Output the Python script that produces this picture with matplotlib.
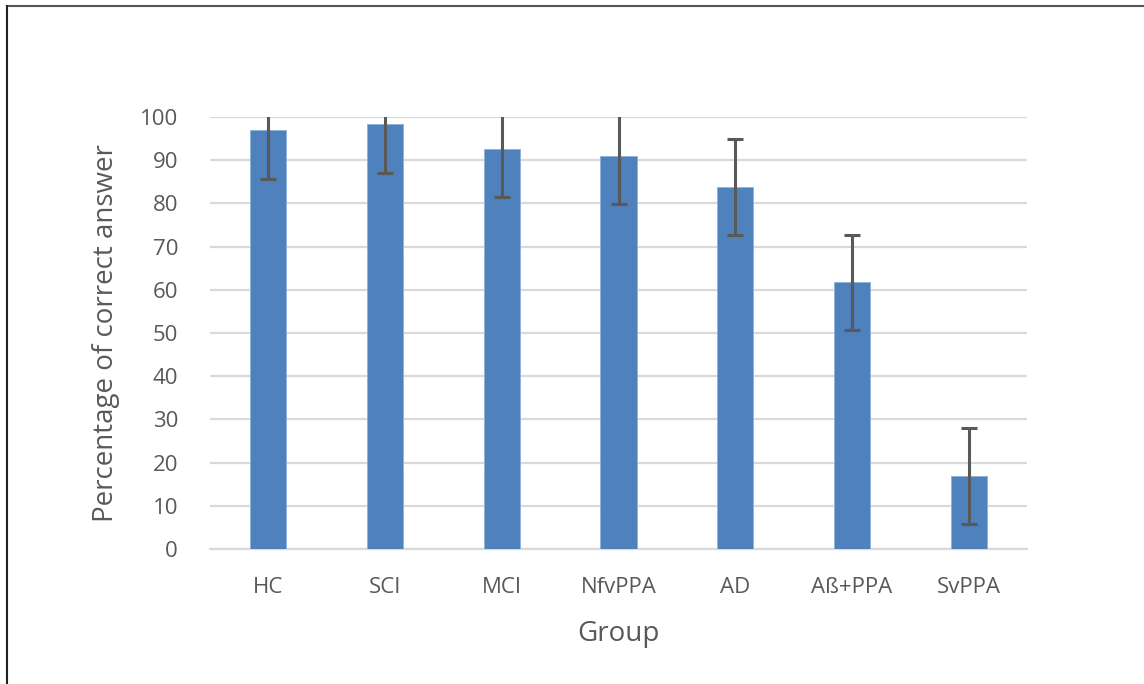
import matplotlib
matplotlib.use("Agg")
import matplotlib.pyplot as plt
from matplotlib.lines import Line2D

groups = ["HC", "SCI", "MCI", "NfvPPA", "AD", "Aß+PPA", "SvPPA"]
values = [97.0, 98.3, 92.6, 91.0, 83.9, 61.7, 17.0]
errors = [11.4, 11.2, 11.2, 11.1, 11.1, 11.1, 11.1]
yticks = [0, 10, 20, 30, 40, 50, 60, 70, 80, 90, 100]

plt.rcParams['font.family'] = ['Open Sans', 'DejaVu Sans']

W, H = 1144, 684
fig = plt.figure(figsize=(W / 100, H / 100), dpi=100)
ax = fig.add_axes([210 / W, 1 - 549 / H, (1027 - 210) / W, (549 - 117) / H])

x = list(range(len(groups)))
ax.bar(x, values, width=0.31, color="#4F81BD", edgecolor="#8EB0DA", linewidth=0.6, zorder=3)
ax.errorbar(x, values, yerr=errors, fmt="none", ecolor="#595959", elinewidth=2.2,
            capsize=5.5, capthick=2.2, zorder=4, clip_on=True)

ax.set_xlim(-0.5, len(groups) - 0.5)
ax.set_ylim(0, 100)
ax.set_yticks(yticks)
ax.set_xticks(x)
ax.set_xticklabels(groups)
ax.grid(axis="y", color="#D9D9D9", linewidth=1.6, zorder=0)
ax.set_axisbelow(True)
for s in ["top", "right", "left"]:
    ax.spines[s].set_visible(False)
ax.spines["bottom"].set_color("#D9D9D9")
ax.spines["bottom"].set_linewidth(1.6)
ax.tick_params(axis="both", length=0, labelsize=16, colors="#595959")
ax.tick_params(axis="y", pad=23)
ax.tick_params(axis="x", pad=20)

ax.set_ylabel("Percentage of correct answer", fontsize=20, color="#595959", labelpad=14)
ax.set_xlabel("Group", fontsize=20, color="#595959", labelpad=16)

fig.lines.append(Line2D([7 / W, 1.0], [1 - 6 / H, 1 - 6 / H], transform=fig.transFigure,
                        color="#555555", linewidth=1.5))
fig.lines.append(Line2D([7 / W, 7 / W], [0, 1 - 6 / H], transform=fig.transFigure,
                        color="#222222", linewidth=1.5))

fig.savefig("out.png", dpi=100)
